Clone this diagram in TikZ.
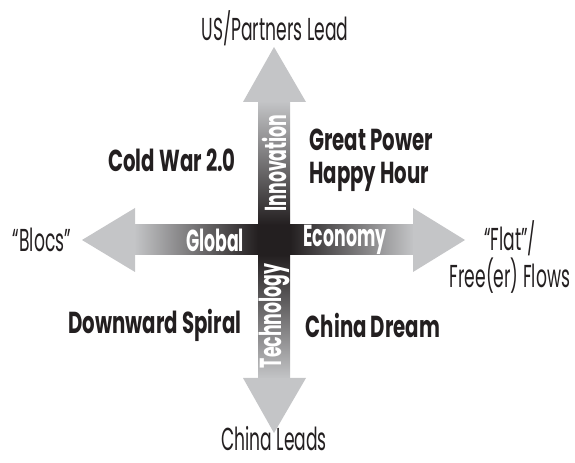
\documentclass[tikz,border=0pt]{standalone}
\usepackage{fontspec}
\newfontfamily\condl[FakeStretch=0.54]{Poppins}
\newfontfamily\condb[FakeStretch=0.65]{Poppins}
\newfontfamily\condw[FakeStretch=0.57]{Poppins}
\definecolor{headgray}{HTML}{C4C5C7}
\definecolor{ink}{HTML}{231F20}
\begin{document}
\begin{tikzpicture}[x=0.75pt,y=-0.75pt,
  lab/.style={font=\condl\fontsize{23.8}{24.75}\selectfont, text=ink, inner sep=0pt},
  blab/.style={font=\condb\bfseries\fontsize{22.75}{24.75}\selectfont, text=ink, inner sep=0pt},
  wlab/.style={font=\condw\bfseries\fontsize{22.75}{24.75}\selectfont, text=white, inner sep=0pt}]
\useasboundingbox (0,0) rectangle (575,463);
% horizontal arrow
\shade[left color=headgray, right color=ink] (134,225) rectangle (258,255);
\shade[left color=ink, right color=headgray] (290,225) rectangle (414,255);
\fill[headgray] (135,208) -- (82,240) -- (135,272) -- cycle;
\fill[headgray] (413,208) -- (465,240) -- (413,272) -- cycle;
% vertical arrow
\shade[top color=headgray, bottom color=ink] (258,101) rectangle (290,225);
\shade[top color=ink, bottom color=headgray] (258,255) rectangle (290,379);
\fill[ink] (258,225) rectangle (290,255);
\fill[headgray] (243,102) -- (274,47) -- (306,102) -- cycle;
\fill[headgray] (243,378) -- (274,433) -- (306,378) -- cycle;
% labels on arrows
\node[wlab] (glob) at (215,240) {Global};
\node[wlab] (econ) at (345,240) {Economy};
\node[wlab, rotate=90] (innov) at (274,163) {Innovation};
\node[wlab, rotate=90] (tech) at (274,316) {Technology};
% ends
\node[lab] (us) at (275,28) {US/Partners Lead};
\node[lab, anchor=base] (cl) at (274,450) {China Leads};
\node[lab] (blocs) at (42,240) {“Blocs”};
\node[lab, align=center] (flat) at (510,257) {“Flat”/\\Free(er) Flows};
% quadrants
\node[blab] (cw) at (172,160) {Cold War 2.0};
\node[blab, anchor=west, align=left] (gp) at (309,160) {Great Power\\Happy Hour};
\node[blab] (ds) at (155,325) {Downward Spiral};
\node[blab] (cd) at (373,325) {China Dream};
\end{tikzpicture}
\end{document}
